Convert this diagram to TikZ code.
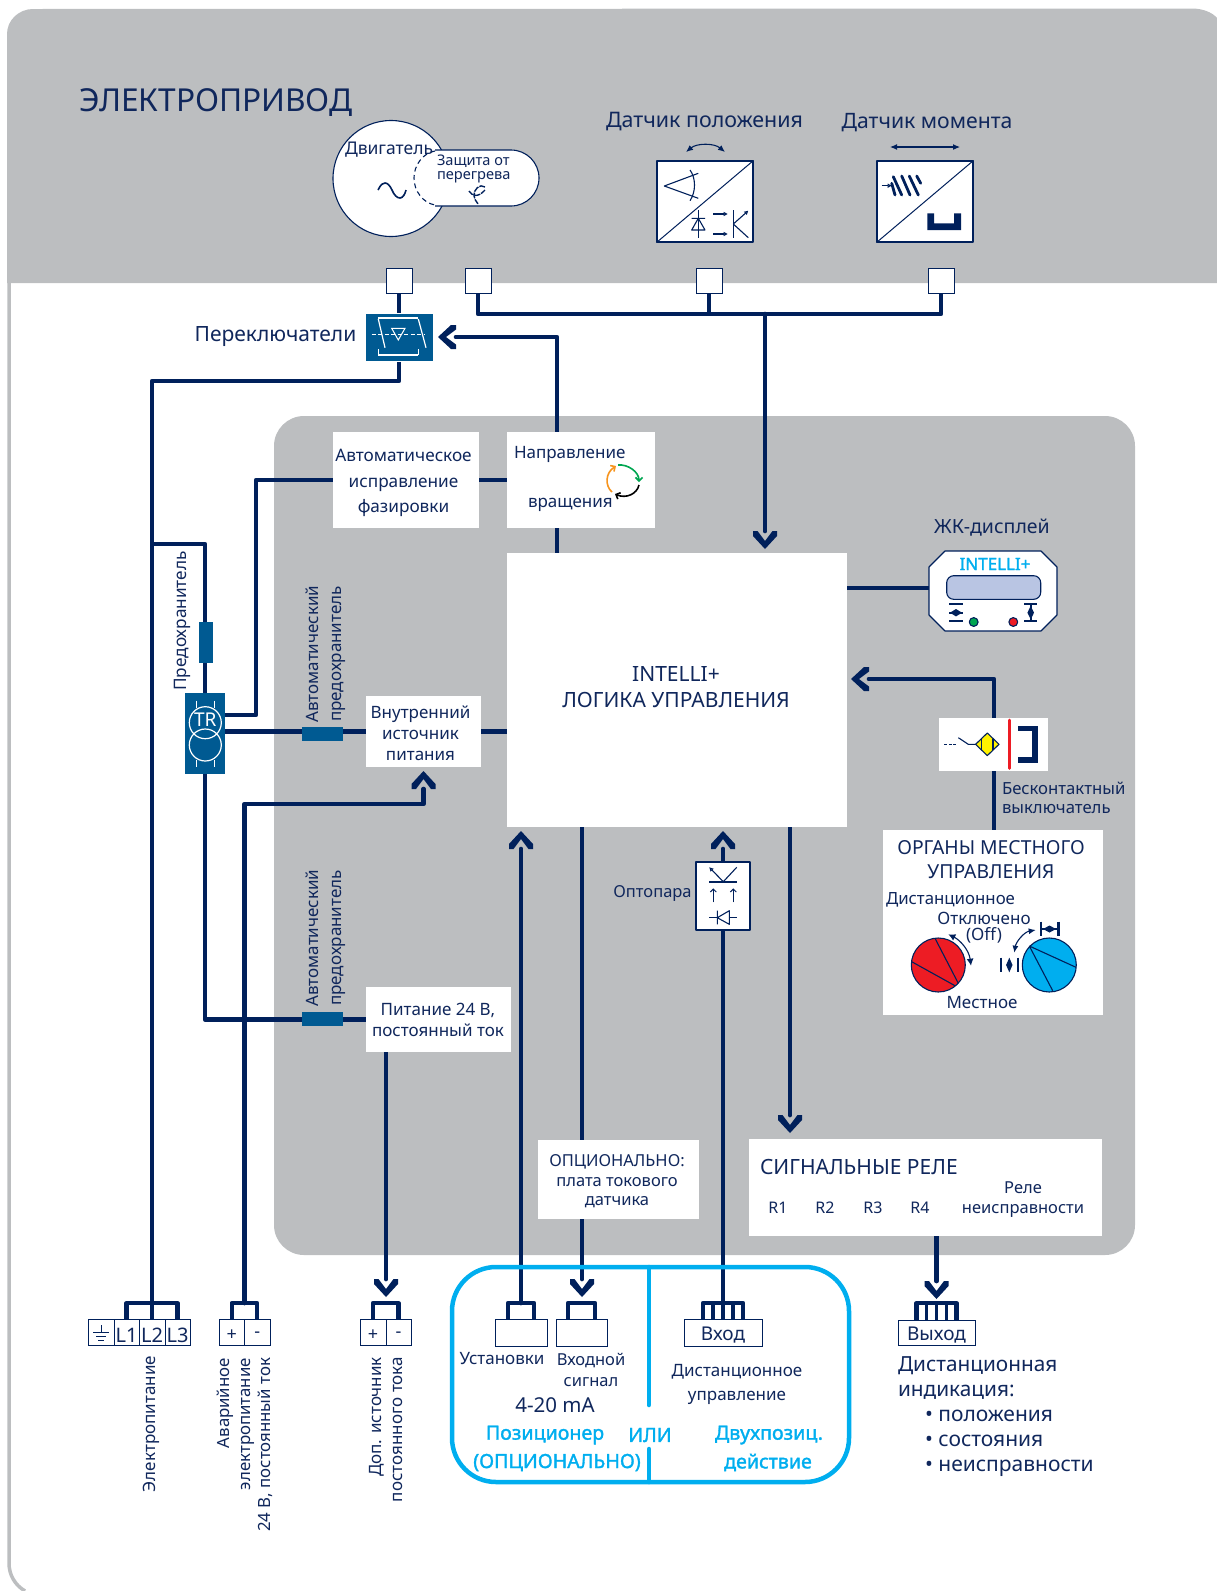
\documentclass[tikz,border=0pt]{standalone}
\usepackage{fontspec}
\setmainfont{Noto Sans}
\newfontfamily\bfn[FakeBold=1.6]{Noto Sans}
\usetikzlibrary{arrows.meta,backgrounds,shapes.geometric}
\definecolor{navy}{HTML}{00205B}
\definecolor{txtc}{HTML}{10275C}
\definecolor{band}{HTML}{BCBEC0}
\definecolor{swb}{HTML}{005A92}
\definecolor{cyanb}{HTML}{00AEEF}
\definecolor{lcdf}{HTML}{B9C5E3}
\definecolor{redk}{HTML}{ED1C24}
\definecolor{greenk}{HTML}{00A651}
\definecolor{yellowk}{HTML}{FFF200}
\definecolor{orangek}{HTML}{F7941E}
\newcommand{\fs}[2]{\fontsize{#1}{#2}\selectfont}
\newcommand{\dn}[1]{\raisebox{-3pt}[\height][\depth]{#1}}
\newcommand{\rbox}[7]{\pgfmathsetmacro\rcx{(#3+#5)/2}\pgfmathsetmacro\rcy{(#4+#6)/2}\pgfmathsetmacro\rw{#5-#3}\pgfmathsetmacro\rh{#6-#4}\node[#1,minimum width=\rw pt,minimum height=\rh pt] (#2) at (\rcx,\rcy) {#7};}
\pgfdeclarearrow{
 name=Chev,
 setup code={
  \pgfarrowssettipend{0pt}
  \pgfarrowssetbackend{-18pt}
  \pgfarrowssetlineend{-18pt}
  \pgfarrowssetvisualbackend{-18pt}
  \pgfarrowshullpoint{0pt}{0pt}
  \pgfarrowsupperhullpoint{-18pt}{12pt}
 },
 drawing code={
  \pgfsetfillcolor{navy}
  \pgfpathmoveto{\pgfqpoint{0pt}{0pt}}
  \pgfpathlineto{\pgfqpoint{-13pt}{12pt}}
  \pgfpathlineto{\pgfqpoint{-18pt}{12pt}}
  \pgfpathlineto{\pgfqpoint{-18pt}{7.5pt}}
  \pgfpathlineto{\pgfqpoint{-8pt}{0pt}}
  \pgfpathlineto{\pgfqpoint{-18pt}{-7.5pt}}
  \pgfpathlineto{\pgfqpoint{-18pt}{-12pt}}
  \pgfpathlineto{\pgfqpoint{-13pt}{-12pt}}
  \pgfpathclose
  \pgfusepathqfill
 }
}
\tikzset{
 x=1pt,y=-1pt,
 wire/.style={draw=navy,line width=4.7pt,line join=round},
 arr/.style={wire,line cap=round,-{Chev},shorten >=#1},
 arr/.default=4pt,
 term/.style={draw=navy,line width=1pt,fill=white,inner sep=0pt,outer sep=0pt,text=txtc,font={\fs{18}{20}}},
 whitebox/.style={fill=white,inner sep=0pt,outer sep=0pt},
 blueblk/.style={fill=swb,inner sep=0pt,outer sep=0pt},
 lbl/.style={text=txtc,inner sep=0pt,outer sep=0pt,align=center},
 cyn/.style={text=cyanb,inner sep=0pt,outer sep=0pt,align=center,font={\bfn\fs{19.6}{22}}},
 sym/.style={draw=navy,line width=1.1pt,line join=round},
 ws/.style={draw=white,line width=1.2pt},
 dbl/.style={sym,{Latex[length=7pt,width=6pt]}-{Latex[length=7pt,width=6pt]}},
 one/.style={sym,-{Stealth[length=4pt,width=4pt,inset=0pt,fill=none]}},
 blue line/.style={draw=cyanb,line width=4.5pt,line cap=round},
 bracket/.style={wire,line width=4.2pt,line join=round},
}
\begin{document}
\begin{tikzpicture}
\path[use as bounding box] (0,0) rectangle (1217,1591);

% ---- terminals top
\rbox{term}{t1}{386}{268}{412}{293}{}
\rbox{term}{t2}{465}{268}{491}{293}{}
\rbox{term}{t3}{696}{268}{722}{293}{}
\rbox{term}{t4}{928}{268}{954}{293}{}

% ---- boxes
\rbox{blueblk,draw=white,line width=0.4pt}{sw}{365}{313}{433}{361}{}
\rbox{whitebox}{auto}{333}{432}{479}{528}{}
\rbox{whitebox}{dir}{507}{432}{655}{528}{}
\rbox{whitebox}{main}{507}{553}{847}{827}{}
\rbox{whitebox}{pwr}{366}{696}{481}{767}{}
\rbox{whitebox}{psu}{366}{987}{511}{1052}{}
\rbox{whitebox}{opt}{538}{1140}{699}{1219}{}
\rbox{whitebox}{rel}{749}{1139}{1102}{1236}{}
\rbox{whitebox}{org}{883}{830}{1103}{1015}{}
\rbox{whitebox}{prox}{939}{718}{1048}{771}{}
\rbox{sym,fill=white,inner sep=0pt,outer sep=0pt}{opto}{696}{862}{750}{930}{}
\rbox{blueblk}{fuse}{199}{622}{213}{663}{}
\rbox{blueblk}{tr}{185}{693}{225}{774}{}
\rbox{blueblk}{brkA}{302}{727}{343}{741}{}
\rbox{blueblk}{brkB}{302}{1012}{343}{1026}{}
\node[inner sep=0pt,outer sep=0pt,minimum width=128pt,minimum height=80pt] (lcd) at (993,591) {};
\draw[sym,fill=white] (945,551) -- (1041,551) -- (1057,567) -- (1057,615) -- (1041,631) -- (945,631) -- (929,615) -- (929,567) -- cycle;

\node[lbl,font={\fs{17.2}{25.3}}] (tAuto) at (403.5,483) {Автоматическое\\исправление\\фазировки};
\node[lbl,font={\fs{17}{20.8}}] (tPwr) at (420.5,733.5) {Внутренний\\источник\\питания};
\node[lbl,font={\fs{17}{21}}] (tPsu) at (438,1019.5) {Питание 24 В,\\постоянный ток};

% ---- bottom terminals
\rbox{term}{cE}{88}{1319}{114}{1345}{}
\rbox{term,font={\fs{20}{22}}}{cLa}{114}{1319}{139}{1345}{\dn{L1}}
\rbox{term,font={\fs{20}{22}}}{cLb}{139}{1319}{165}{1345}{\dn{L2}}
\rbox{term,font={\fs{20}{22}}}{cLc}{165}{1319}{190}{1345}{\dn{L3}}
\rbox{term}{pA}{219}{1319}{244.5}{1345}{\dn{+}}
\rbox{term}{mA}{244.5}{1319}{270}{1345}{\dn{-}}
\rbox{term}{pB}{360}{1319}{386}{1345}{\dn{+}}
\rbox{term}{mB}{386}{1319}{411}{1345}{\dn{-}}
\rbox{term}{set}{495}{1319}{547}{1346}{}
\rbox{term}{inp}{556}{1319}{607}{1346}{}
\rbox{term,font={\fs{19}{22}}}{vh}{684}{1319}{762}{1346}{\dn{Вход}}
\rbox{term,font={\fs{19}{22}}}{vyh}{898}{1320}{975}{1345}{\dn{Выход}}

\coordinate (cM) at (152,381);
\coordinate (cMb) at (152,1319);
\coordinate (cBus) at (941,314);
\coordinate (cBusA) at (765,314);
\coordinate (cDir) at (557,553);
\coordinate (cTRa) at (225,715);
\coordinate (cPh) at (256,480);
\coordinate (cF) at (152,544);
\coordinate (cPs) at (386,1052);
\coordinate (cEm) at (244.5,1303);
\coordinate (cEt) at (423.5,804);
\coordinate (cSt) at (521,1303);
\coordinate (cSm) at (521,827);
\coordinate (cIm) at (582,827);
\coordinate (cIb) at (582,1303);
\coordinate (cVb) at (723,1303);
\coordinate (cVm) at (723,827);
\coordinate (cRm) at (790,827);
\coordinate (cOr) at (936.5,1236);
\coordinate (cOb) at (936.5,1303);
\coordinate (cAb) at (386,1303);
\coordinate (cDa) at (847,588);
\coordinate (cDb) at (929,588);
\coordinate (cOt) at (994,830);
\coordinate (cOm) at (847,679);

\begin{scope}[on background layer]
 % panels
 \fill[band] (7,283) -- (7,34) .. controls (7,20) and (19,9) .. (33,9) -- (1192,8.5) .. controls (1202,8.5) and (1212,12) .. (1217,18) -- (1217,283) -- cycle;
 \draw[band,line width=3.5pt] (9,283) -- (9,1563) .. controls (9,1575) and (15,1585) .. (25,1591);
 \fill[band,rounded corners=30pt] (274,416) rectangle (1135,1255);
 % connectors
 \draw[wire] (t1.south) -- (sw.north);
 \draw[wire] (sw.south) |- (cM) -- (cMb);
 \draw[wire] (t2.south) |- (cBus) -- (t4.south);
 \draw[wire] (t3.south) -- (t3.south |- cBus);
 \draw[arr] (cBusA) -- (cBusA |- main.north);
 \draw[arr=5pt] (cDir) |- (sw.east);
 \draw[wire] (cTRa) -| (cPh) -- (dir.west);
 \draw[wire] (cF) -| (tr.north);
 \draw[wire] (tr.east |- pwr.west) -- (pwr.west);
 \draw[wire] (pwr.east) -- (main.west |- pwr.east);
 \draw[wire] (tr.south) |- (psu.west);
 \draw[arr=6pt] (cPs) -- (cAb);
 \draw[arr] (cEm) |- (cEt) -- (pwr.south);
 \draw[arr] (cSt) -- (cSm);
 \draw[arr=6pt] (cIm) -- (cIb);
 \draw[arr] (cVb) -- (cVm);
 \draw[arr=6pt] (cRm) -- (cRm |- rel.north);
 \draw[arr=4pt] (cOr) -- (cOb);
 \draw[wire] (cDa) -- (cDb);
 \draw[arr] (cOt) |- (cOm);
 % terminal brackets
 \draw[bracket] (cLa.north) -- ++(0,-16) -| (cLc.north);
 \draw[bracket] (pA.north) -- ++(0,-16) -| (mA.north);
 \draw[bracket] (pB.north) -- ++(0,-16) -| (mB.north);
 \draw[bracket] ([xshift=-13pt]set.north) -- ++(0,-16) -| ([xshift=13pt]set.north);
 \draw[bracket] ([xshift=-13.5pt]inp.north) -- ++(0,-16) -| ([xshift=13.5pt]inp.north);
 \draw[bracket] ([xshift=-20pt]vh.north) -- ++(0,-16) -| ([xshift=20pt]vh.north);
 \draw[bracket,line width=3.6pt] ([xshift=-10pt]vh.north) -- ++(0,-16) ([xshift=0pt]vh.north) -- ++(0,-16) ([xshift=10pt]vh.north) -- ++(0,-16);
 \draw[bracket] ([xshift=-20pt]vyh.north) -- ++(0,-17) -| ([xshift=20pt]vyh.north);
 \draw[bracket,line width=3.6pt] ([xshift=-10pt]vyh.north) -- ++(0,-17) ([xshift=0pt]vyh.north) -- ++(0,-17) ([xshift=10pt]vyh.north) -- ++(0,-17);
\end{scope}

% ---- blue option frame
\draw[cyanb,line width=4.5pt,rounded corners=44pt] (452,1267) rectangle (849,1482);
\draw[blue line] (649,1267) -- (649,1405);
\draw[blue line] (649,1449) -- (649,1482);

% ---- headings
\node[lbl,anchor=west,font={\fs{31.6}{36}}] (tTitle) at (79,103) {ЭЛЕКТРОПРИВОД};
\node[lbl,font={\fs{21.4}{24}}] (tPos) at (704.5,122) {Датчик положения};
\node[lbl,font={\fs{21.2}{24}}] (tTorque) at (927,123) {Датчик момента};

% ---- motor
\node[draw=navy,line width=1.1pt,fill=white,circle,minimum size=116pt,inner sep=0pt] (motor) at (391,178.5) {};
\fill[white] (442,150) -- (511,150) .. controls (526.5,150) and (539,162.5) .. (539,178) .. controls (539,193.5) and (526.5,206) .. (511,206) -- (442,206) .. controls (426.5,206) and (414,193.5) .. (414,178) .. controls (414,162.5) and (426.5,150) .. (442,150) -- cycle;
\draw[sym] (435,150) -- (511,150) .. controls (526.5,150) and (539,162.5) .. (539,178) .. controls (539,193.5) and (526.5,206) .. (511,206) -- (435,206);
\draw[sym,dash pattern=on 5pt off 3.5pt] (435,151) .. controls (423,153) and (414,165) .. (414,178) .. controls (414,191) and (423,203) .. (435,205);
\draw[sym,line width=1.6pt] (378,190) .. controls (381,184) and (383,183) .. (385,183) .. controls (388,183) and (390,186) .. (392,190) .. controls (394,195) and (397,198) .. (400,198) .. controls (403,198) and (405,194) .. (406,190);
\draw[sym,line width=1.4pt,dash pattern=on 6pt off 1pt] (485,187) .. controls (480,183) and (473,190) .. (474,196) .. controls (475,202) and (480,205) .. (477,203);
\draw[sym,line width=1.4pt,dash pattern=on 6pt off 1pt] (469,191) .. controls (472,196) and (478,198) .. (485,190);
\node[lbl,anchor=west,font={\fs{17.5}{20}}] (tMot) at (345,150) {Двигатель};
\node[lbl,anchor=west,align=left,font={\fs{14.6}{14}}] (tProt) at (437,169) {Защита от\\перегрева};

% ---- position sensor
\rbox{sym,fill=white,inner sep=0pt}{pos}{657}{161}{753}{242}{}
\draw[sym,line width=1pt] (pos.south west) -- (pos.north east);
\draw[sym] (698.3,173.3) -- (664.3,186) -- (698.3,198.3);
\draw[sym] (690,170) .. controls (696,178) and (696,192) .. (690,200.7);
\draw[sym] (698.3,210) -- (698.3,237.7);
\draw[sym] (691.7,218.3) -- (705,218.3) (691.7,230) -- (705,230) -- (698.3,218.3) -- cycle;
\draw[one] (713.3,214) -- (727.7,214);
\draw[one] (713.3,234) -- (727.7,234);
\draw[sym] (733.3,210) -- (733.3,237.7);
\draw[one] (733.3,224) -- (748.3,210.7);
\draw[sym] (733.3,224) -- (748.3,237.7);
\draw[dbl] (686,152) .. controls (697,143) and (714,143) .. (725,152);

% ---- torque sensor
\rbox{sym,fill=white,inner sep=0pt}{tq}{877}{161}{973}{242}{}
\draw[sym,line width=1pt] (tq.south west) -- (tq.north east);
\draw[dbl] (890,147) -- (960,147);
\draw[one] (881.7,185.7) -- (891.7,185.7);
\draw[draw=navy,line width=2.8pt,line cap=round] (891.7,183.3) -- (895,195) (893.3,176.7) -- (901.7,195) (901.7,176) -- (910,195) (909.3,176) -- (918.3,195) (916.7,176) -- (920.7,183.3);
\fill[navy] (927.3,213.3) -- (934,213.3) -- (934,223.3) -- (954,223.3) -- (954,213.3) -- (961,213.3) -- (961,230) -- (927.3,230) -- cycle;

% ---- switch
\node[lbl,font={\fs{21}{24}}] (tSw) at (275.5,337) {Переключатели};
\draw[white,line width=2.2pt] (378.3,318.3) -- (418.3,318.3);
\draw[white,line width=1.2pt] (378.3,319) -- (385,347.7) (418.3,319) -- (426,347.7);
\draw[white,line width=1pt,dash pattern=on 4pt off 2.5pt] (371.7,334) -- (425,334);
\draw[white,line width=1pt] (391.7,328.3) -- (405,328.3) -- (398.3,340) -- cycle;
\draw[white,line width=2.2pt] (378.3,355) -- (418.3,355);
\draw[white,line width=1pt] (378.3,349) -- (378.3,355) (418.3,349) -- (418.3,355);

% ---- labels left
\node[lbl,rotate=90,font={\fs{17.2}{20}}] (tFuse) at (182,621) {Предохранитель};
\node[lbl,rotate=90,font={\fs{17}{23}}] (tBrkA) at (326,654) {Автоматический\\предохранитель};
\node[lbl,rotate=90,font={\fs{17}{23}}] (tBrkB) at (326,938) {Автоматический\\предохранитель};
% ---- TR
\draw[ws] (205.3,722.7) circle[radius=16pt] (205.3,745) circle[radius=16pt];
\draw[white,line width=0.8pt] (196.7,700.7) -- (196.7,708) (214,700.7) -- (214,708) (196.7,760) -- (196.7,767) (214,760) -- (214,767);
\node[text=white,inner sep=0pt,font={\fs{19}{20}}] (tTR) at (205.3,720) {TR};

% ---- direction box
\node[lbl,anchor=west,font={\fs{17}{20}}] (tDirA) at (514,454.5) {Направление};
\node[lbl,anchor=west,font={\fs{17}{20}}] (tDirB) at (528,504.5) {вращения};
\draw[greenk,line width=1.6pt,-{Straight Barb[length=3.5pt,width=7pt]}] (618,465) .. controls (628,464) and (639,472) .. (639,482);
\draw[black,line width=1.6pt,-{Straight Barb[length=3.5pt,width=7pt]}] (639,485) .. controls (637,494) and (626,499) .. (615,494);
\draw[orangek,line width=1.6pt,-{Straight Barb[length=3.5pt,width=7pt]}] (612,492) .. controls (605,486) and (605,473) .. (616,466);

% ---- main text
\node[lbl,font={\fs{21}{26}}] (tMain) at (676,687) {INTELLI+\\ЛОГИКА УПРАВЛЕНИЯ};

% ---- LCD
\node[lbl,font={\fs{19.5}{22}}] (tLcd) at (992,528) {ЖК-дисплей};
\node[text=cyanb,inner sep=0pt,font={\bfn\fs{17}{20}}] (tInt) at (995,564) {INTELLI+};
\draw[sym,fill=lcdf,rounded corners=7pt] (946.7,575.7) rectangle (1040.7,599.3);
\draw[draw=navy,line width=2pt] (949,604) -- (963.3,604) (949,621.3) -- (963.3,621.3) (1024,604) -- (1037.3,604) (1024,621.3) -- (1037.3,621.3) (1030.7,604) -- (1030.7,621.3) (949,612.7) -- (963.3,612.7);
\fill[navy] (950,612.7) -- (956,609) -- (962,612.7) -- (956,616.4) -- cycle;
\fill[navy] (1030.7,606) -- (1034,612.7) -- (1030.7,619.4) -- (1027.4,612.7) -- cycle;
\draw[sym,fill=greenk] (973.7,622) circle[radius=4.4pt];
\draw[sym,fill=redk] (1013.3,622) circle[radius=4.4pt];

% ---- proximity
\draw[sym,dash pattern=on 3pt off 1.5pt] (944.3,744.3) -- (956.7,744.3);
\draw[sym] (958.3,737.7) -- (968.3,744.3) -- (976.7,744.3);
\draw[sym,fill=yellowk] (975.6,744.3) -- (987.3,733) -- (999,744.3) -- (987.3,755.6) -- cycle;
\draw[sym] (981.5,738.6) -- (981.5,750) (993,738.6) -- (993,750);
\draw[redk,line width=3pt,line cap=round] (1009.3,720) -- (1009.3,768.3);
\draw[navy,line width=5.2pt,line join=miter] (1018.3,728.3) -- (1035,728.3) -- (1035,760) -- (1018.3,760);
\node[lbl,anchor=west,align=left,font={\fs{16.7}{19}}] (tProx) at (1002,797.5) {Бесконтактный\\выключатель};

% ---- local controls
\node[lbl,font={\fs{19.3}{24}}] (tOrg) at (991,860) {ОРГАНЫ МЕСТНОГО\\УПРАВЛЕНИЯ};
\node[lbl,anchor=west,font={\fs{16.8}{20}}] (tRem) at (886,900) {Дистанционное};
\node[lbl,font={\fs{17}{15.5}}] (tOff) at (984,927.5) {Отключено\\(Off)};
\node[lbl,font={\fs{17}{20}}] (tLoc) at (982,1003) {Местное};
\draw[sym,fill=redk] (938.3,965) circle[radius=27pt];
\draw[sym] (935,938.3) -- (958.3,983.3) (911.7,961.7) -- (955,985.7);
\draw[sym,{Latex[length=7pt,width=7pt]}-{Latex[length=7pt,width=7pt]}] (948.3,934.3) .. controls (960,940) and (969,950) .. (971,965.7);
\draw[sym,fill=cyanb] (1049.3,965) circle[radius=27pt];
\draw[sym] (1076,967.3) -- (1029.3,946) (1052.7,990.7) -- (1029.3,946);
\draw[sym,{Latex[length=7pt,width=6pt]}-{Latex[length=7pt,width=6pt]}] (1035.7,930) .. controls (1024,932) and (1016,942) .. (1014.3,952.7);
\draw[draw=navy,line width=2.4pt] (1040.7,921.7) -- (1040.7,936) (1058.3,921.7) -- (1058.3,936) (1040.7,929) -- (1058.3,929);
\fill[navy] (1043,929) -- (1049.5,925.5) -- (1056,929) -- (1049.5,932.5) -- cycle;
\draw[draw=navy,line width=2.4pt] (1001,957.7) -- (1001,972.3) (1017.7,957.7) -- (1017.7,972.3);
\fill[navy] (1009.3,957.7) -- (1012.5,965) -- (1009.3,972.3) -- (1006.1,965) -- cycle;

% ---- optocoupler
\node[lbl,font={\fs{16.5}{20}}] (tOpto) at (652.5,893) {Оптопара};
\draw[sym] (723.3,881.7) -- (736.7,867.3);
\draw[one] (723.3,881.7) -- (709.3,867.3);
\draw[sym] (709.3,882) -- (736.7,882);
\draw[sym,-{Straight Barb[length=3pt,width=6pt]},line width=1pt] (713.3,902.3) -- (713.3,888.3);
\draw[sym,-{Straight Barb[length=3pt,width=6pt]},line width=1pt] (733.3,902.3) -- (733.3,888.3);
\draw[sym] (709.3,917.7) -- (717.3,917.7) (729.3,917.7) -- (736.7,917.7);
\draw[sym] (717.3,910.7) -- (717.3,924.3) (729.3,910.7) -- (729.3,924.3) -- (717.3,917.7) -- cycle;

% ---- labels inner
\node[lbl,font={\fs{16.5}{19.5}}] (tOpt) at (617,1181.5) {ОПЦИОНАЛЬНО:\\плата токового\\датчика};
\node[lbl,anchor=west,font={\fs{21}{24}}] (tRel) at (760,1167) {СИГНАЛЬНЫЕ РЕЛЕ};
\node[lbl,font={\fs{16}{18}}] (tR1) at (778,1208) {R1};
\node[lbl,font={\fs{16}{18}}] (tR2) at (825,1208) {R2};
\node[lbl,font={\fs{16}{18}}] (tR3) at (873,1208) {R3};
\node[lbl,font={\fs{16}{18}}] (tR4) at (920,1208) {R4};
\node[lbl,font={\fs{16.5}{20}}] (tFlt) at (1023,1200) {Реле\\неисправности};

% ---- bottom labels
\draw[sym,line width=0.8pt] (101,1325) -- (101,1332) (93,1332) -- (109,1332) (96,1336) -- (106,1336) (98,1340) -- (104,1340);
\node[lbl,rotate=90,font={\fs{17}{20}}] (tPow) at (151,1424) {Электропитание};
\node[lbl,rotate=90,anchor=east,align=right,font={\fs{16.8}{20.5}}] (tEm) at (245,1358) {Аварийное\\электропитание\\24 В, постоянный ток};
\node[lbl,rotate=90,anchor=east,align=right,font={\fs{17}{21}}] (tAux) at (386.5,1357) {Доп. источник\\постоянного тока};

\node[lbl,font={\fs{17}{20}}] (tSet) at (502,1359) {Установки};
\node[lbl,font={\fs{16.5}{21}}] (tInp) at (591,1370) {Входной\\сигнал};
\node[lbl,font={\fs{20.5}{22}}] (tMA) at (555,1405) {4-20 mA};
\node[cyn] (tPz) at (545,1435) {Позиционер};
\node[cyn] (tPz2) at (557,1462.5) {(ОПЦИОНАЛЬНО)};
\node[cyn] (tOr) at (650,1435) {ИЛИ};
\node[cyn] (tTw) at (769,1435) {Двухпозиц.};
\node[cyn] (tTw2) at (768,1462.5) {действие};
\node[lbl,font={\fs{17}{24}}] (tRm) at (737,1384) {Дистанционное\\управление};
\node[lbl,anchor=west,align=left,font={\fs{20.8}{25}}] (tInd) at (898,1378.5) {Дистанционная\\индикация:};
\node[lbl,anchor=west,align=left,font={\fs{21}{25}}] (tIndA) at (925,1443) {• положения\\• состояния\\• неисправности};
\end{tikzpicture}
\end{document}
